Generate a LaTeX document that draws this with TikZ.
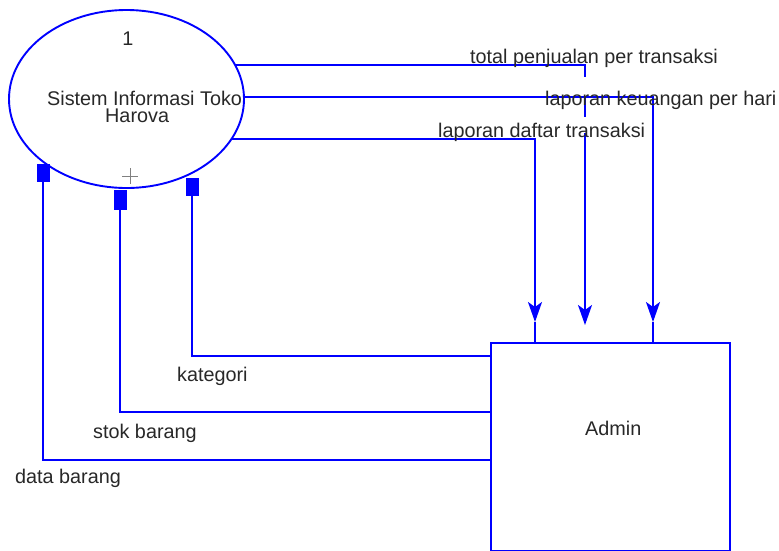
\documentclass[tikz,border=0pt]{standalone}
\usepackage{fontspec}
\setmainfont{Liberation Sans}
\usetikzlibrary{arrows.meta,shapes.geometric}
\definecolor{flow}{RGB}{0,0,255}
\definecolor{txt}{RGB}{40,40,40}
\tikzset{
  flowline/.style={draw=flow,line width=1.9pt},
  arrowin/.style={flowline,-{Stealth[length=20pt,width=14pt,inset=5pt]}},
  sqtip/.style={flowline,-{Square[length=#1,width=13pt]}},
  lbl/.style={inner sep=0pt,text=txt,font=\fontsize{19.8}{17}\selectfont},
}
\begin{document}
\begin{tikzpicture}[x=1pt,y=-1pt]
\useasboundingbox (0,0) rectangle (779,550);
\fill[white] (0,0) rectangle (779,550);

% process
\node[ellipse,draw=flow,line width=1.9pt,minimum width=235pt,minimum height=178pt,inner sep=0pt] (proc) at (126.5,99) {};
\node[lbl,anchor=base] (pnum) at (128,45) {1};
\node[lbl,anchor=base west,align=left] (pname) at (47,122) {Sistem Informasi Toko\\\hspace*{58pt}Harova};
\draw[gray,line width=1pt] (122,176) -- (138,176) (130,168) -- (130,184);

% entity
\node[draw=flow,line width=1.9pt,minimum width=239pt,minimum height=208pt,anchor=north west,inner sep=0pt] (admin) at (490,342) {};
\node[lbl,anchor=base west] (adminlbl) at (585,435) {Admin};

% coordinates
\coordinate (o1) at (235,65);
\coordinate (o2) at (244,97);
\coordinate (o3) at (232,139);
\coordinate (t1) at (535,322);
\coordinate (t2) at (585,325);
\coordinate (t3) at (653,322);
\coordinate (e1) at (192,178);
\coordinate (e2) at (120,190);
\coordinate (e3) at (43,164);

% outgoing flows
\draw[flowline] (o1) -- (585,65) -- (585,77);
\draw[flowline] (585,97) -- (585,117);
\draw[arrowin] (585,133) -- (t2);
\draw[arrowin] (o2) -| (t3);
\draw[flowline] (t3) -- (t3 |- admin.north);
\draw[arrowin] (o3) -| (t1);
\draw[flowline] (t1) -- (t1 |- admin.north);

% incoming flows
\draw[sqtip=18pt] (admin.west |- 0,356) -| (e1);
\draw[sqtip=20pt] (admin.west |- 0,412) -| (e2);
\draw[sqtip=18pt] (admin.west |- 0,460) -| (e3);

% labels
\node[lbl,anchor=base west] (l1) at (470,63) {total penjualan per transaksi};
\node[lbl,anchor=base west] (l2) at (545,105) {laporan keuangan per hari};
\node[lbl,anchor=base west] (l3) at (438,137) {laporan daftar transaksi};
\node[lbl,anchor=base west] (l4) at (177,381) {kategori};
\node[lbl,anchor=base west] (l5) at (93,438) {stok barang};
\node[lbl,anchor=base west] (l6) at (15,483) {data barang};
\end{tikzpicture}
\end{document}
